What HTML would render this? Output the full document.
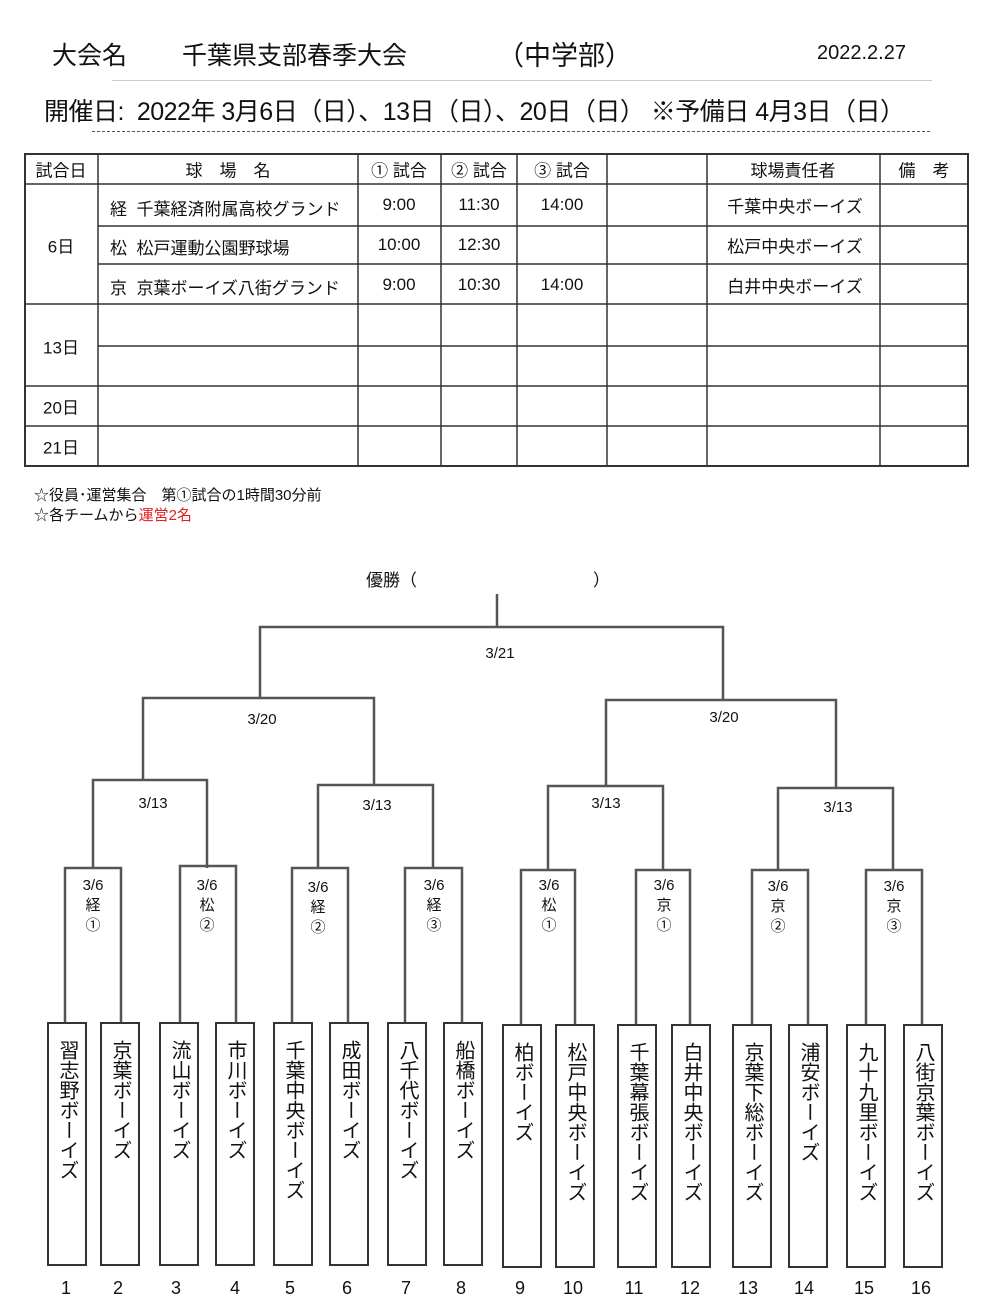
<!DOCTYPE html>
<html><head><meta charset="utf-8"><style>
body{margin:0;background:#fff;}
#p{position:relative;width:990px;height:1311px;overflow:hidden;font-family:"Liberation Sans","Noto Sans CJK JP",sans-serif;color:#111;}
.a{position:absolute;white-space:nowrap;}
.c{position:absolute;transform:translateX(-50%);white-space:nowrap;text-align:center;}
.tm{position:absolute;top:1022px;width:36px;height:240px;border:2.5px solid #333;box-sizing:content-box;}
.tm span{position:absolute;left:50%;top:16px;transform:translateX(-50%);writing-mode:vertical-rl;font-size:20px;letter-spacing:0px;line-height:1;}
.tc{position:absolute;font-size:17px;transform:translate(-50%,-50%);white-space:nowrap;}
.lb{position:absolute;transform:translateX(-50%);font-size:15px;line-height:20px;text-align:center;}
</style></head><body><div id="p">
<div class="a" style="left:52px;top:36px;font-size:25px;">大会名</div>
<div class="a" style="left:182px;top:36px;font-size:25px;">千葉県支部春季大会</div>
<div class="a" style="left:497px;top:34px;font-size:27px;">（中学部）</div>
<div class="a" style="left:817px;top:42px;font-size:20px;">2022.2.27</div>
<div class="a" style="left:112px;top:80px;width:820px;height:1px;background:#ccc;"></div>
<div class="a" style="left:44px;top:92px;font-size:25px;letter-spacing:-0.5px;">開催日:&nbsp; 2022年 3月6日（日）、13日（日）、20日（日） ※予備日 4月3日（日）</div>
<div class="a" style="left:92px;top:131px;width:838px;border-top:1px dashed #555;"></div>
<svg class="a" style="left:0;top:0" width="990" height="1311">
<g stroke="#333" stroke-width="1.5" fill="none">
<rect x="25" y="154" width="943" height="312" stroke-width="2"/>
<line x1="25" y1="184" x2="968" y2="184"/>
<line x1="98" y1="226" x2="968" y2="226"/>
<line x1="98" y1="264" x2="968" y2="264"/>
<line x1="25" y1="304" x2="968" y2="304"/>
<line x1="98" y1="346" x2="968" y2="346"/>
<line x1="25" y1="386" x2="968" y2="386"/>
<line x1="25" y1="426" x2="968" y2="426"/>
<line x1="98" y1="154" x2="98" y2="466"/><line x1="358" y1="154" x2="358" y2="466"/><line x1="441" y1="154" x2="441" y2="466"/><line x1="517" y1="154" x2="517" y2="466"/><line x1="607" y1="154" x2="607" y2="466"/><line x1="707" y1="154" x2="707" y2="466"/><line x1="880" y1="154" x2="880" y2="466"/>
</g>
<g stroke="#555" stroke-width="2.5" fill="none">
<polyline points="497,594 497,627"/>
<polyline points="260,698 260,627 723,627 723,700"/>
<polyline points="143,780 143,698 374,698 374,785"/>
<polyline points="606,786 606,700 836,700 836,788"/>
<polyline points="93,868 93,780 207,780 207,868"/>
<polyline points="318,868 318,785 433,785 433,868"/>
<polyline points="548,870 548,786 663,786 663,870"/>
<polyline points="778,870 778,788 893,788 893,870"/>
<polyline points="65,1022 65,868 121,868 121,1022"/>
<polyline points="180,1022 180,866 236,866 236,1022"/>
<polyline points="292,1022 292,868 348,868 348,1022"/>
<polyline points="405,1022 405,868 462,868 462,1022"/>
<polyline points="521,1024 521,870 575,870 575,1024"/>
<polyline points="636,1024 636,870 690,870 690,1024"/>
<polyline points="752,1024 752,870 808,870 808,1024"/>
<polyline points="866,1024 866,870 922,870 922,1024"/>
</g></svg>
<div class="tc" style="left:61px;top:169px;">試合日</div>
<div class="tc" style="left:228px;top:169px;">球　場　名</div>
<div class="tc" style="left:399px;top:169px;">① 試合</div>
<div class="tc" style="left:479px;top:169px;">② 試合</div>
<div class="tc" style="left:562px;top:169px;">③ 試合</div>
<div class="tc" style="left:793px;top:169px;">球場責任者</div>
<div class="tc" style="left:924px;top:169px;">備　考</div>
<div class="tc" style="left:61px;top:245px;">6日</div>
<div class="tc" style="left:61px;top:346px;">13日</div>
<div class="tc" style="left:61px;top:406px;">20日</div>
<div class="tc" style="left:61px;top:446px;">21日</div>
<div class="a" style="left:110px;top:195px;font-size:17px;">経&nbsp; 千葉経済附属高校グランド</div>
<div class="a" style="left:110px;top:234px;font-size:17px;">松&nbsp; 松戸運動公園野球場</div>
<div class="a" style="left:110px;top:274px;font-size:17px;">京&nbsp; 京葉ボーイズ八街グランド</div>
<div class="tc" style="left:399px;top:205px;">9:00</div><div class="tc" style="left:479px;top:205px;">11:30</div><div class="tc" style="left:562px;top:205px;">14:00</div><div class="tc" style="left:795px;top:205px;">千葉中央ボーイズ</div>
<div class="tc" style="left:399px;top:245px;">10:00</div><div class="tc" style="left:479px;top:245px;">12:30</div><div class="tc" style="left:795px;top:245px;">松戸中央ボーイズ</div>
<div class="tc" style="left:399px;top:285px;">9:00</div><div class="tc" style="left:479px;top:285px;">10:30</div><div class="tc" style="left:562px;top:285px;">14:00</div><div class="tc" style="left:795px;top:285px;">白井中央ボーイズ</div>
<div class="a" style="left:34px;top:484px;font-size:15px;">☆役員･運営集合　第①試合の1時間30分前</div>
<div class="a" style="left:34px;top:504px;font-size:15px;">☆各チームから<span style="color:#e02020">運営2名</span></div>
<div class="a" style="left:366px;top:566px;font-size:17px;">優勝（</div>
<div class="a" style="left:593px;top:566px;font-size:17px;">）</div>
<div class="lb" style="left:500px;top:644px;">3/21</div>
<div class="lb" style="left:262px;top:710px;">3/20</div>
<div class="lb" style="left:724px;top:708px;">3/20</div>
<div class="lb" style="left:153px;top:794px;">3/13</div>
<div class="lb" style="left:377px;top:796px;">3/13</div>
<div class="lb" style="left:606px;top:794px;">3/13</div>
<div class="lb" style="left:838px;top:798px;">3/13</div>
<div class="lb" style="left:93px;top:876px;">3/6<br>経<br>①</div>
<div class="lb" style="left:207px;top:876px;">3/6<br>松<br>②</div>
<div class="lb" style="left:318px;top:878px;">3/6<br>経<br>②</div>
<div class="lb" style="left:434px;top:876px;">3/6<br>経<br>③</div>
<div class="lb" style="left:549px;top:876px;">3/6<br>松<br>①</div>
<div class="lb" style="left:664px;top:876px;">3/6<br>京<br>①</div>
<div class="lb" style="left:778px;top:877px;">3/6<br>京<br>②</div>
<div class="lb" style="left:894px;top:877px;">3/6<br>京<br>③</div>
<div class="tm" style="left:47px;"><span>習志野ボーイズ</span></div>
<div class="tm" style="left:100px;"><span>京葉ボーイズ</span></div>
<div class="tm" style="left:159px;"><span>流山ボーイズ</span></div>
<div class="tm" style="left:215px;"><span>市川ボーイズ</span></div>
<div class="tm" style="left:273px;"><span>千葉中央ボーイズ</span></div>
<div class="tm" style="left:329px;"><span>成田ボーイズ</span></div>
<div class="tm" style="left:387px;"><span>八千代ボーイズ</span></div>
<div class="tm" style="left:443px;"><span>船橋ボーイズ</span></div>
<div class="tm" style="left:502px;top:1024px;"><span>柏ボーイズ</span></div>
<div class="tm" style="left:555px;top:1024px;"><span>松戸中央ボーイズ</span></div>
<div class="tm" style="left:617px;top:1024px;"><span>千葉幕張ボーイズ</span></div>
<div class="tm" style="left:671px;top:1024px;"><span>白井中央ボーイズ</span></div>
<div class="tm" style="left:732px;top:1024px;"><span>京葉下総ボーイズ</span></div>
<div class="tm" style="left:788px;top:1024px;"><span>浦安ボーイズ</span></div>
<div class="tm" style="left:846px;top:1024px;"><span>九十九里ボーイズ</span></div>
<div class="tm" style="left:903px;top:1024px;"><span>八街京葉ボーイズ</span></div>
<div class="c" style="left:66px;top:1278px;font-size:18px;">1</div>
<div class="c" style="left:118px;top:1278px;font-size:18px;">2</div>
<div class="c" style="left:176px;top:1278px;font-size:18px;">3</div>
<div class="c" style="left:235px;top:1278px;font-size:18px;">4</div>
<div class="c" style="left:290px;top:1278px;font-size:18px;">5</div>
<div class="c" style="left:347px;top:1278px;font-size:18px;">6</div>
<div class="c" style="left:406px;top:1278px;font-size:18px;">7</div>
<div class="c" style="left:461px;top:1278px;font-size:18px;">8</div>
<div class="c" style="left:520px;top:1278px;font-size:18px;">9</div>
<div class="c" style="left:573px;top:1278px;font-size:18px;">10</div>
<div class="c" style="left:634px;top:1278px;font-size:18px;">11</div>
<div class="c" style="left:690px;top:1278px;font-size:18px;">12</div>
<div class="c" style="left:748px;top:1278px;font-size:18px;">13</div>
<div class="c" style="left:804px;top:1278px;font-size:18px;">14</div>
<div class="c" style="left:864px;top:1278px;font-size:18px;">15</div>
<div class="c" style="left:921px;top:1278px;font-size:18px;">16</div>
</div></body></html>
